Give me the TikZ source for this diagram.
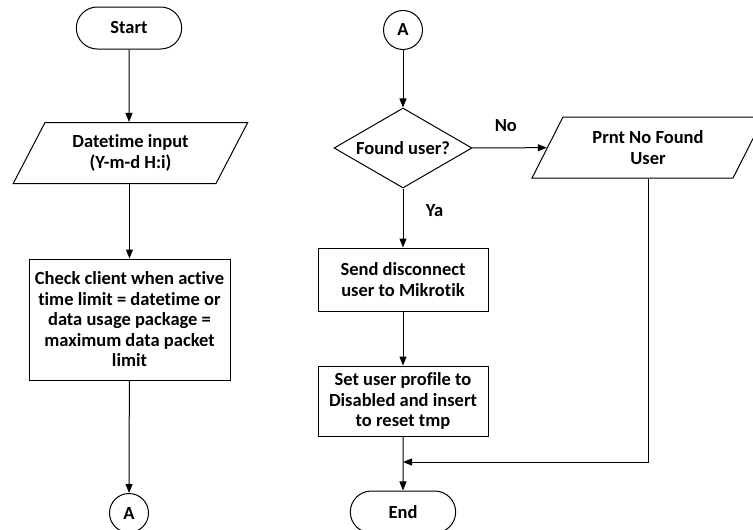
\documentclass[tikz,border=0pt]{standalone}
\usepackage{fontspec}
\setmainfont{Carlito}[RawFeature={-liga}]
\usetikzlibrary{shapes.geometric,shapes.misc,arrows.meta,positioning}

\begin{document}
\begin{tikzpicture}[x=1pt,y=-1pt,line width=1pt,>={Triangle[length=9pt,width=7pt]}]
		\tikzstyle{every node}=[font=\fontsize{18.5}{20.5}\selectfont\bfseries,align=center]
		\tikzstyle{terminal}=[draw,rounded rectangle,minimum width=112,minimum height=42]
		\tikzstyle{process}=[draw,rectangle,inner sep=2pt]
		\tikzstyle{io}=[draw,trapezium,trapezium stretches=true,trapezium left angle=62,trapezium right angle=118,minimum height=61]
		\tikzstyle{decision}=[draw,diamond,aspect=1.725,minimum width=138,minimum height=80,inner sep=0pt]
		\tikzstyle{connector}=[draw,circle,minimum size=39,inner sep=0pt]

		\clip (0,0) rectangle (753,530);

		%left column
		\node[terminal] (start) at (129,28) {Start};
		\node[io,minimum width=235] (input) at (130.5,153) {Datetime input\\(Y-m-d H:i)};
		\node[process,minimum width=201,minimum height=121] (check) at (129.5,319.5)
			{Check client when active\\time limit = datetime or\\data usage package =\\maximum data packet\\limit};
		\node[connector] (a1) at (129,513) {A};

		%right column
		\node[connector] (a2) at (403,30) {A};
		\node[decision] (found) at (403,148) {Found user?};
		\node[io,minimum width=232] (notfound) at (648,147.5) {Prnt No Found\\User};
		\node[process,minimum width=170,minimum height=63] (send) at (403,279.5) {Send disconnect\\user to Mikrotik};
		\node[process,minimum width=170,minimum height=70] (set) at (403,401) {Set user profile to\\Disabled and insert\\to reset tmp};
		\node[terminal] (end) at (403,512) {End};
		\coordinate (join) at (403,462);

		%arrows
		\draw[->] (start) -- (start |- input.north);
		\draw[->] (input.south -| check) -- (check);
		\draw[->] (check) -- (a1);
		\draw[->] (a2) -- (found);
		\draw[->] (found) -- node[above=12pt,pos=0.45] {No} (notfound);
		\draw[->] (found) -- node[right=19pt,pos=0.37] {Ya} (send);
		\draw[->] (send) -- (set);
		\draw[->] (set) -- (end);
		\draw[->] (notfound.south) |- (join);
	\end{tikzpicture}
\end{document}
